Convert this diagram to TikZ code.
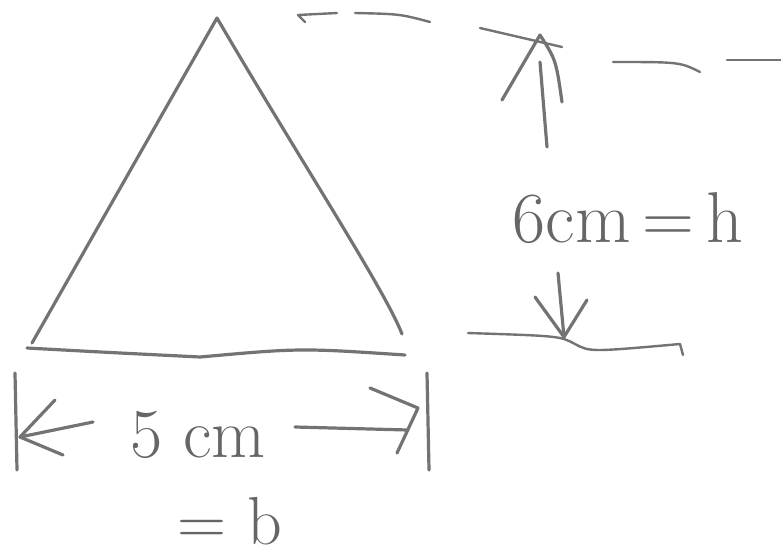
\documentclass[tikz,border=0pt]{standalone}
\begin{document}
\begin{tikzpicture}[x=1pt,y=-1pt,
  pencil/.style={draw=black!55, line width=3.2pt, line cap=round, line join=round},
  thin pencil/.style={draw=black!55, line width=2.4pt, line cap=round, line join=round},
  hand/.style={text=black!60, inner sep=0pt, anchor=base}]
\useasboundingbox (0,0) rectangle (781,558);
% triangle
\coordinate (A) at (217,18);
\coordinate (B) at (32,343);
\coordinate (C) at (402,334);
\draw[pencil] (A) -- (B);
\draw[pencil] (A) .. controls (300,160) and (385,290) .. (C);
\coordinate (BL) at (27,348);
\coordinate (BM) at (200,357);
\coordinate (BR) at (405,355);
\draw[pencil] (BL) .. controls (100,352) .. (BM) .. controls (300,348) .. (BR);
% marks near apex
\draw[thin pencil] (305,22) -- (298,15) -- (337,13);
\draw[thin pencil] (355,13) .. controls (400,14) .. (430,22);
% height dimension
\draw[thin pencil] (480,28) -- (562,47);
\coordinate (UA) at (540,35);
\draw[pencil] (502,100) -- (UA) .. controls (556,60) .. (562,102);
\draw[pencil] (540,62) -- (547,147);
\draw[thin pencil] (613,62) .. controls (680,62) .. (700,72);
\draw[thin pencil] (727,60) -- (781,60);
\node[hand, font=\fontsize{72}{72}\selectfont] (h) at (628,242) {6cm\,=\,h};
\coordinate (DA) at (564,337);
\draw[pencil] (558,273) -- (DA);
\draw[pencil] (535,297) -- (DA) -- (587,300);
\draw[thin pencil] (468,333) .. controls (560,336) .. (575,344) .. controls (590,352) .. (680,344) -- (683,355);
% base dimension
\draw[pencil] (15,373) -- (17,470);
\draw[pencil] (427,373) -- (429,470);
\coordinate (LA) at (20,437);
\draw[pencil] (55,400) -- (LA) -- (63,455);
\draw[pencil] (LA) -- (93,422);
\coordinate (RA) at (418,408);
\draw[pencil] (295,427) -- (408,430);
\draw[pencil] (370,388) -- (RA) -- (397,453);
\node[hand, font=\fontsize{70}{70}\selectfont] (b5) at (198,457) {5 cm};
\node[hand, font=\fontsize{68}{68}\selectfont] (beq) at (230,544) {= b};
\end{tikzpicture}
\end{document}
